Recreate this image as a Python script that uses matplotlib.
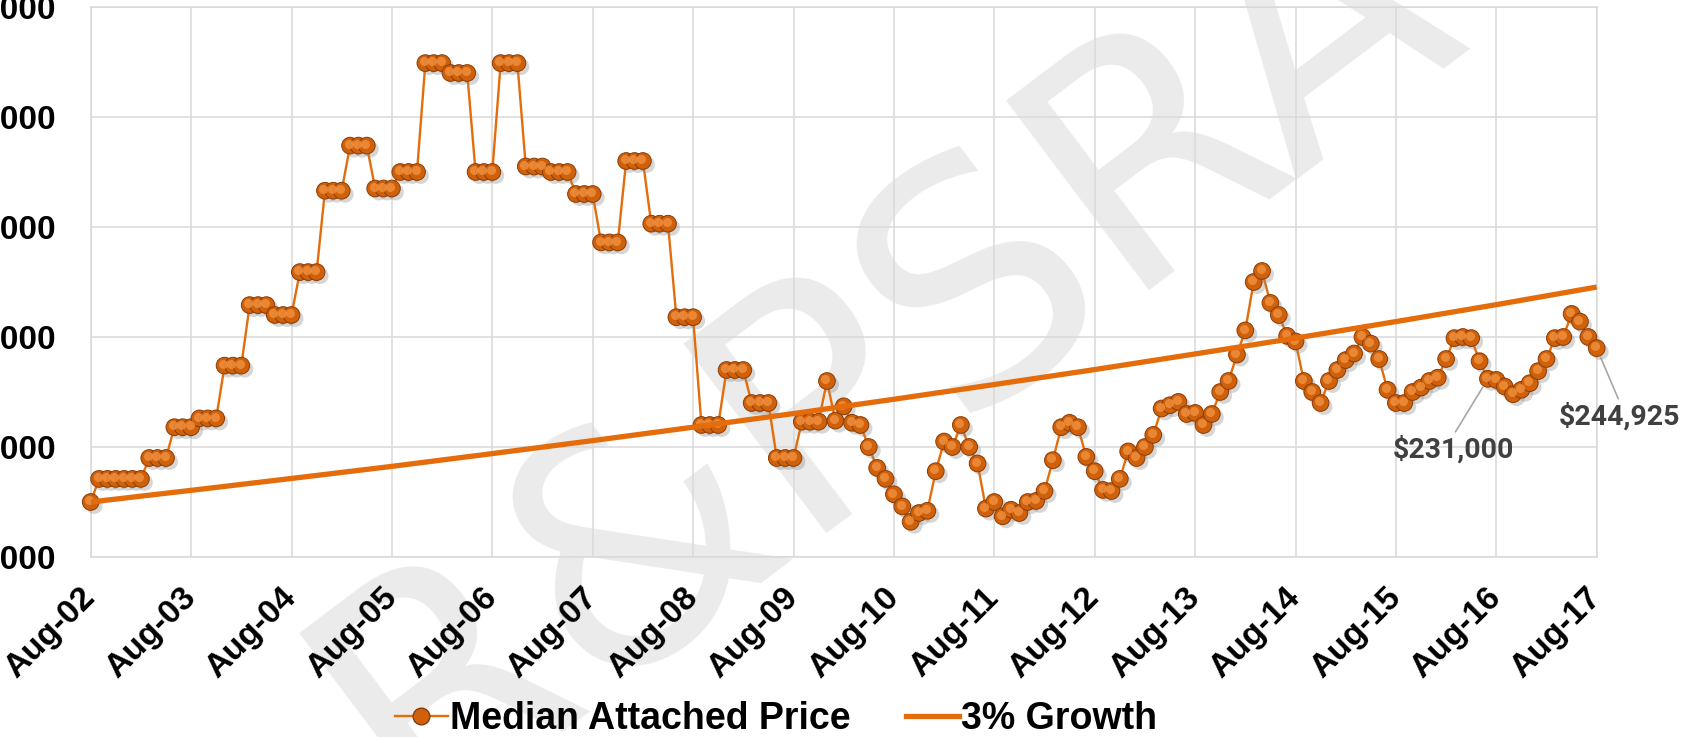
import numpy as np
import matplotlib.pyplot as plt
import matplotlib.patheffects as pe
from matplotlib.transforms import offset_copy
from matplotlib.lines import Line2D

# monthly median attached price, Aug-02 .. Aug-17 (in $1000)
median_price = [
    175, 185.5, 185.5, 185.5, 185.5, 185.5, 185.5, 195, 195, 195, 209, 209,
    209, 213, 213, 213, 237, 237, 237, 264.5, 264.5, 264.5, 260, 260,
    260, 279.5, 279.5, 279.5, 316.5, 316.5, 316.5, 337, 337, 337, 317.5, 317.5,
    317.5, 325, 325, 325, 374.5, 374.5, 374.5, 370, 370, 370, 325, 325,
    325, 374.5, 374.5, 374.5, 327.5, 327.5, 327.5, 325, 325, 325, 315, 315,
    315, 293, 293, 293, 330, 330, 330, 301.5, 301.5, 301.5, 259, 259,
    259, 210, 210, 210, 235, 235, 235, 220, 220, 220, 195, 195,
    195, 211.5, 211.5, 211.5, 230, 212, 218.5, 211, 210, 200, 190.5, 185.5,
    178.5, 173, 166, 170, 171, 189, 202.5, 200, 210, 200, 192.5, 172,
    175, 168.5, 171.5, 170, 175, 175.5, 180, 194, 209, 211, 209, 195.5,
    189, 180.5, 180, 185.5, 198, 195, 200, 205.5, 217.5, 219, 220.5, 215,
    215.5, 210, 215, 225, 230, 242, 253, 275, 280, 265.5, 260, 250.5,
    248, 230, 225, 220, 230, 235, 239.5, 242.5, 250, 247, 240, 226,
    220, 220, 225, 227, 230, 231.5, 240, 249.5, 250, 249.5, 239, 231,
    230.5, 227.5, 224, 226, 229, 234.5, 240, 249.5, 250, 260.5, 257, 250,
    244.925,
]
median_price = np.array(median_price) * 1000

# 3% growth line, read at each August
growth_month = [0, 12, 24, 36, 48, 60, 72, 84, 96, 108, 120, 132, 144, 156, 168, 180]
growth_price = [175.0, 180.3, 185.7, 191.2, 197.0, 202.9, 209.0, 215.2,
                221.7, 228.4, 235.2, 242.3, 249.5, 257.0, 264.7, 272.7]
growth_price = np.array(growth_price) * 1000

x_ticks = [0, 12, 24, 36, 48, 60, 72, 84, 96, 108, 120, 132, 144, 156, 168, 180]
x_labels = ['Aug-02', 'Aug-03', 'Aug-04', 'Aug-05', 'Aug-06', 'Aug-07', 'Aug-08', 'Aug-09',
            'Aug-10', 'Aug-11', 'Aug-12', 'Aug-13', 'Aug-14', 'Aug-15', 'Aug-16', 'Aug-17']
y_ticks = [150000, 200000, 250000, 300000, 350000, 400000]
y_labels = ['$150,000', '$200,000', '$250,000', '$300,000', '$350,000', '$400,000']

orange = '#E46C0A'
ball = '#CF610B'
ball_edge = '#8A3B05'
W, H = 1702, 737

fig = plt.figure(figsize=(W / 100, H / 100), dpi=100)
ax = fig.add_axes([90.7 / W, (H - 557) / H, 1506 / W, 550 / H])
ax.patch.set_alpha(0)

# faint watermark behind everything
fig.text(0.52, 0.52, 'R&PSRA', rotation=37, fontsize=235, color='#EBEBEB',
         ha='center', va='center', family='DejaVu Sans', zorder=-5)

months = np.arange(len(median_price))
ax.plot(months, median_price, color=orange, lw=1.7, zorder=3, clip_on=False)
ax.plot(months, median_price, ls='none', marker='o', ms=12, mfc=ball, mec=ball_edge,
        mew=0.7, zorder=4, clip_on=False,
        path_effects=[pe.SimplePatchShadow(offset=(2.6, -2.6), shadow_rgbFace='#8C8C8C', alpha=0.35),
                      pe.Normal()])
hl = offset_copy(ax.transData, fig=fig, x=-1.5, y=1.8, units='dots')
ax.plot(months, median_price, ls='none', marker='o', ms=6.5, mfc='#F2913F', mec='none',
        alpha=0.8, transform=hl, zorder=5, clip_on=False)

ax.plot(growth_month, growth_price, color=orange, lw=3.8, zorder=6, solid_capstyle='butt')

ax.set_xlim(0, 180)
ax.set_ylim(150000, 400000)
ax.set_xticks(x_ticks)
ax.set_xticklabels(x_labels, rotation=45, ha='right', va='center', rotation_mode='anchor')
ax.set_yticks(y_ticks)
ax.set_yticklabels(y_labels)
for lab in ax.get_xticklabels() + ax.get_yticklabels():
    lab.set_fontfamily('Liberation Sans')
    lab.set_fontweight('bold')
    lab.set_fontsize(24)
ax.tick_params(axis='x', length=0, pad=26)
ax.tick_params(axis='y', length=0, pad=25)

ax.grid(True, color='#D9D9D9', lw=1.1)
ax.set_axisbelow(True)
for s in ax.spines.values():
    s.set_color('#D9D9D9')
    s.set_linewidth(1.1)

arrow = dict(arrowstyle='-', color='#A6A6A6', lw=1.2, shrinkA=1, shrinkB=7, relpos=(0.5, 1.0))
ax.annotate('$231,000', xy=(167, 231000), xytext=(1453, H - 450), textcoords='figure pixels',
            ha='center', va='center', fontsize=20.5, fontweight='bold', color='#404040',
            family='Roboto', arrowprops=arrow, zorder=7)
ax.annotate('$244,925', xy=(180, 244925), xytext=(1620, H - 417), textcoords='figure pixels',
            ha='center', va='center', fontsize=20.5, fontweight='bold', color='#404040',
            family='Roboto', arrowprops=arrow, zorder=7, annotation_clip=False)

h1 = Line2D([], [], color=orange, lw=1.7, marker='o', ms=12, mfc=ball, mec=ball_edge)
h2 = Line2D([], [], color=orange, lw=3.8)
fig.legend([h1, h2], ['Median Attached Price', '3% Growth'], loc='center',
           bbox_to_anchor=(776 / W, 1 - 719 / H), ncol=2, frameon=False,
           prop={'family': 'Liberation Sans', 'weight': 'bold', 'size': 27},
           handlelength=1.4, handletextpad=0.05, columnspacing=1.5)

fig.savefig('out.png', dpi=100)
